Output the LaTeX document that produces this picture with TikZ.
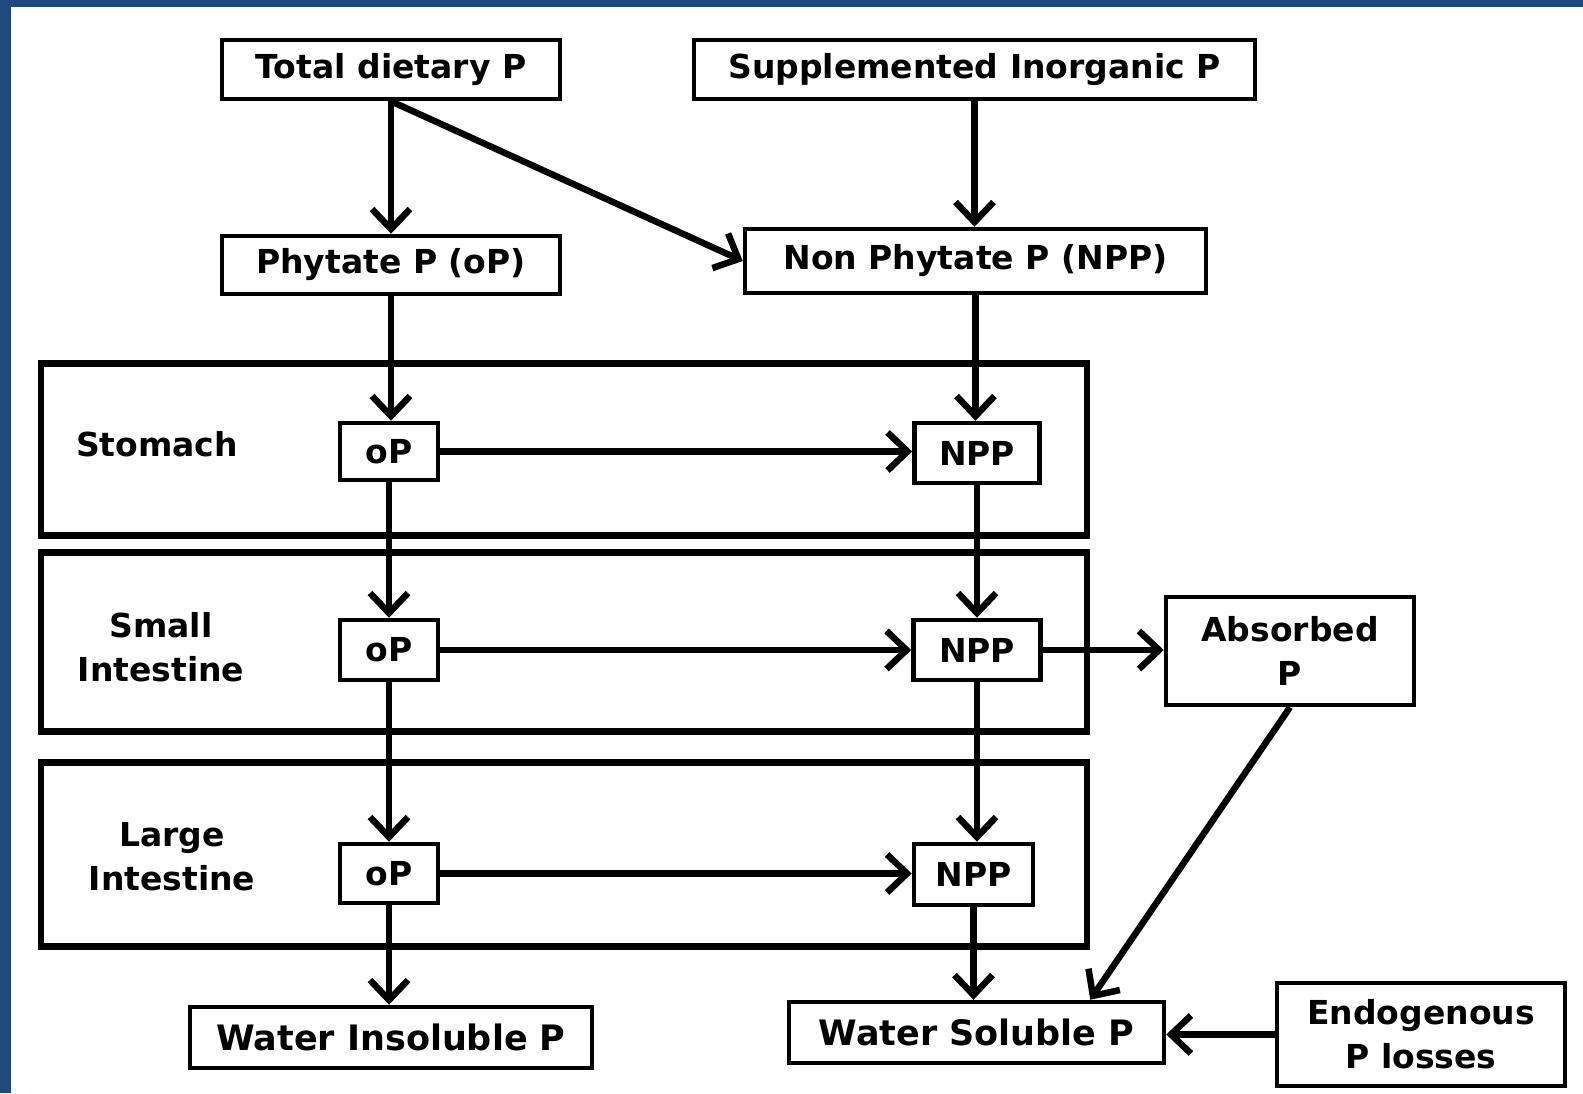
\documentclass[tikz,border=0pt]{standalone}
\usepackage{fontspec}
\setmainfont{DejaVu Sans}
\usetikzlibrary{arrows.meta,calc}
\definecolor{frameblue}{HTML}{1F497D}
\begin{document}
\begin{tikzpicture}[x=1pt,y=-1pt,
  lbl/.style={font=\bfseries\fontsize{33}{44}\selectfont, align=center, inner sep=0pt},
  box/.style={lbl, draw, line width=4.5pt, minimum width=#1},
  bigbox/.style={lbl, font=\bfseries\fontsize{35}{44}\selectfont, draw, line width=4.5pt, minimum width=#1},
  region/.style={draw, line width=6.5pt, minimum width=1046pt, inner sep=0pt},
  arr/.style={line width=6.5pt, -{Straight Barb[length=20pt,width=38pt,line width=6.5pt]}}
]
% background frame
\path[fill=frameblue] (0,0) rectangle (1583,1093);
\path[fill=white] (11,7) rectangle (1583,1093);
\useasboundingbox (0,0) rectangle (1583,1093);

% regions
\node[region, minimum height=172pt] (stomachR) at (564,449.5) {};
\node[region, minimum height=179pt] (smallR) at (564,642) {};
\node[region, minimum height=184pt] (largeR) at (564,854.5) {};

\node[lbl] (stomachL) at (157,444) {Stomach};
\node[lbl] (smallL) at (161,647) {Small\\Intestine};
\node[lbl] (largeL) at (172,857) {Large\\Intestine};

% boxes
\node[box=338pt, minimum height=59pt] (total) at (391,69.5) {Total dietary P};
\node[box=561pt, minimum height=59pt] (supp) at (974.5,69.5) {Supplemented Inorganic P};
\node[box=338pt, minimum height=58pt] (phy) at (391,265) {Phytate P (oP)};
\node[box=461pt, minimum height=64pt] (npp) at (975.5,261) {Non Phytate P (NPP)};

\node[box=98pt, minimum height=57pt] (so) at (389,451.5) {oP};
\node[box=125pt, minimum height=60pt] (sn) at (977,453) {NPP};
\node[box=98pt, minimum height=60pt] (io) at (389,650) {oP};
\node[box=127pt, minimum height=60pt] (in) at (977,650) {NPP};
\node[box=98pt, minimum height=59pt] (lo) at (389,873.5) {oP};
\node[box=119pt, minimum height=61pt] (ln) at (973.5,874.5) {NPP};

\node[box=248pt, minimum height=108pt] (abs) at (1290,651) {Absorbed\\P};
\node[bigbox=402pt, minimum height=61pt] (wi) at (391,1037.5) {Water Insoluble P};
\node[bigbox=375pt, minimum height=61pt] (ws) at (976.5,1032.5) {Water Soluble P};
\node[box=288pt, minimum height=103pt] (endo) at (1421,1034.5) {Endogenous\\P losses};

% connectors
\draw[arr] (total.south) -- (phy.north);
\draw[arr] (total.south) -- (npp.west);
\draw[arr] (supp.south) -- (supp.south |- npp.north);
\draw[arr] (phy.south) -- (phy.south |- so.north);
\draw[arr] (npp.south) -- (npp.south |- sn.north);
\draw[arr] (so.east) -- (so.east -| sn.west);
\draw[arr] (so.south) -- (io.north);
\draw[arr] (sn.south) -- (in.north);
\draw[arr] (io.east) -- (in.west);
\draw[arr] (in.east) -- (in.east -| abs.west);
\draw[arr] (io.south) -- (lo.north);
\draw[arr] (in.south) -- (in.south |- ln.north);
\draw[arr] (lo.east) -- (lo.east -| ln.west);
\draw[arr] (lo.south) -- (lo.south |- wi.north);
\draw[arr] (ln.south) -- (ln.south |- ws.north);
\draw[arr] (abs.south) -- ([xshift=-76pt]ws.north east);
\draw[arr] (endo.west) -- (endo.west -| ws.east);
\end{tikzpicture}
\end{document}
